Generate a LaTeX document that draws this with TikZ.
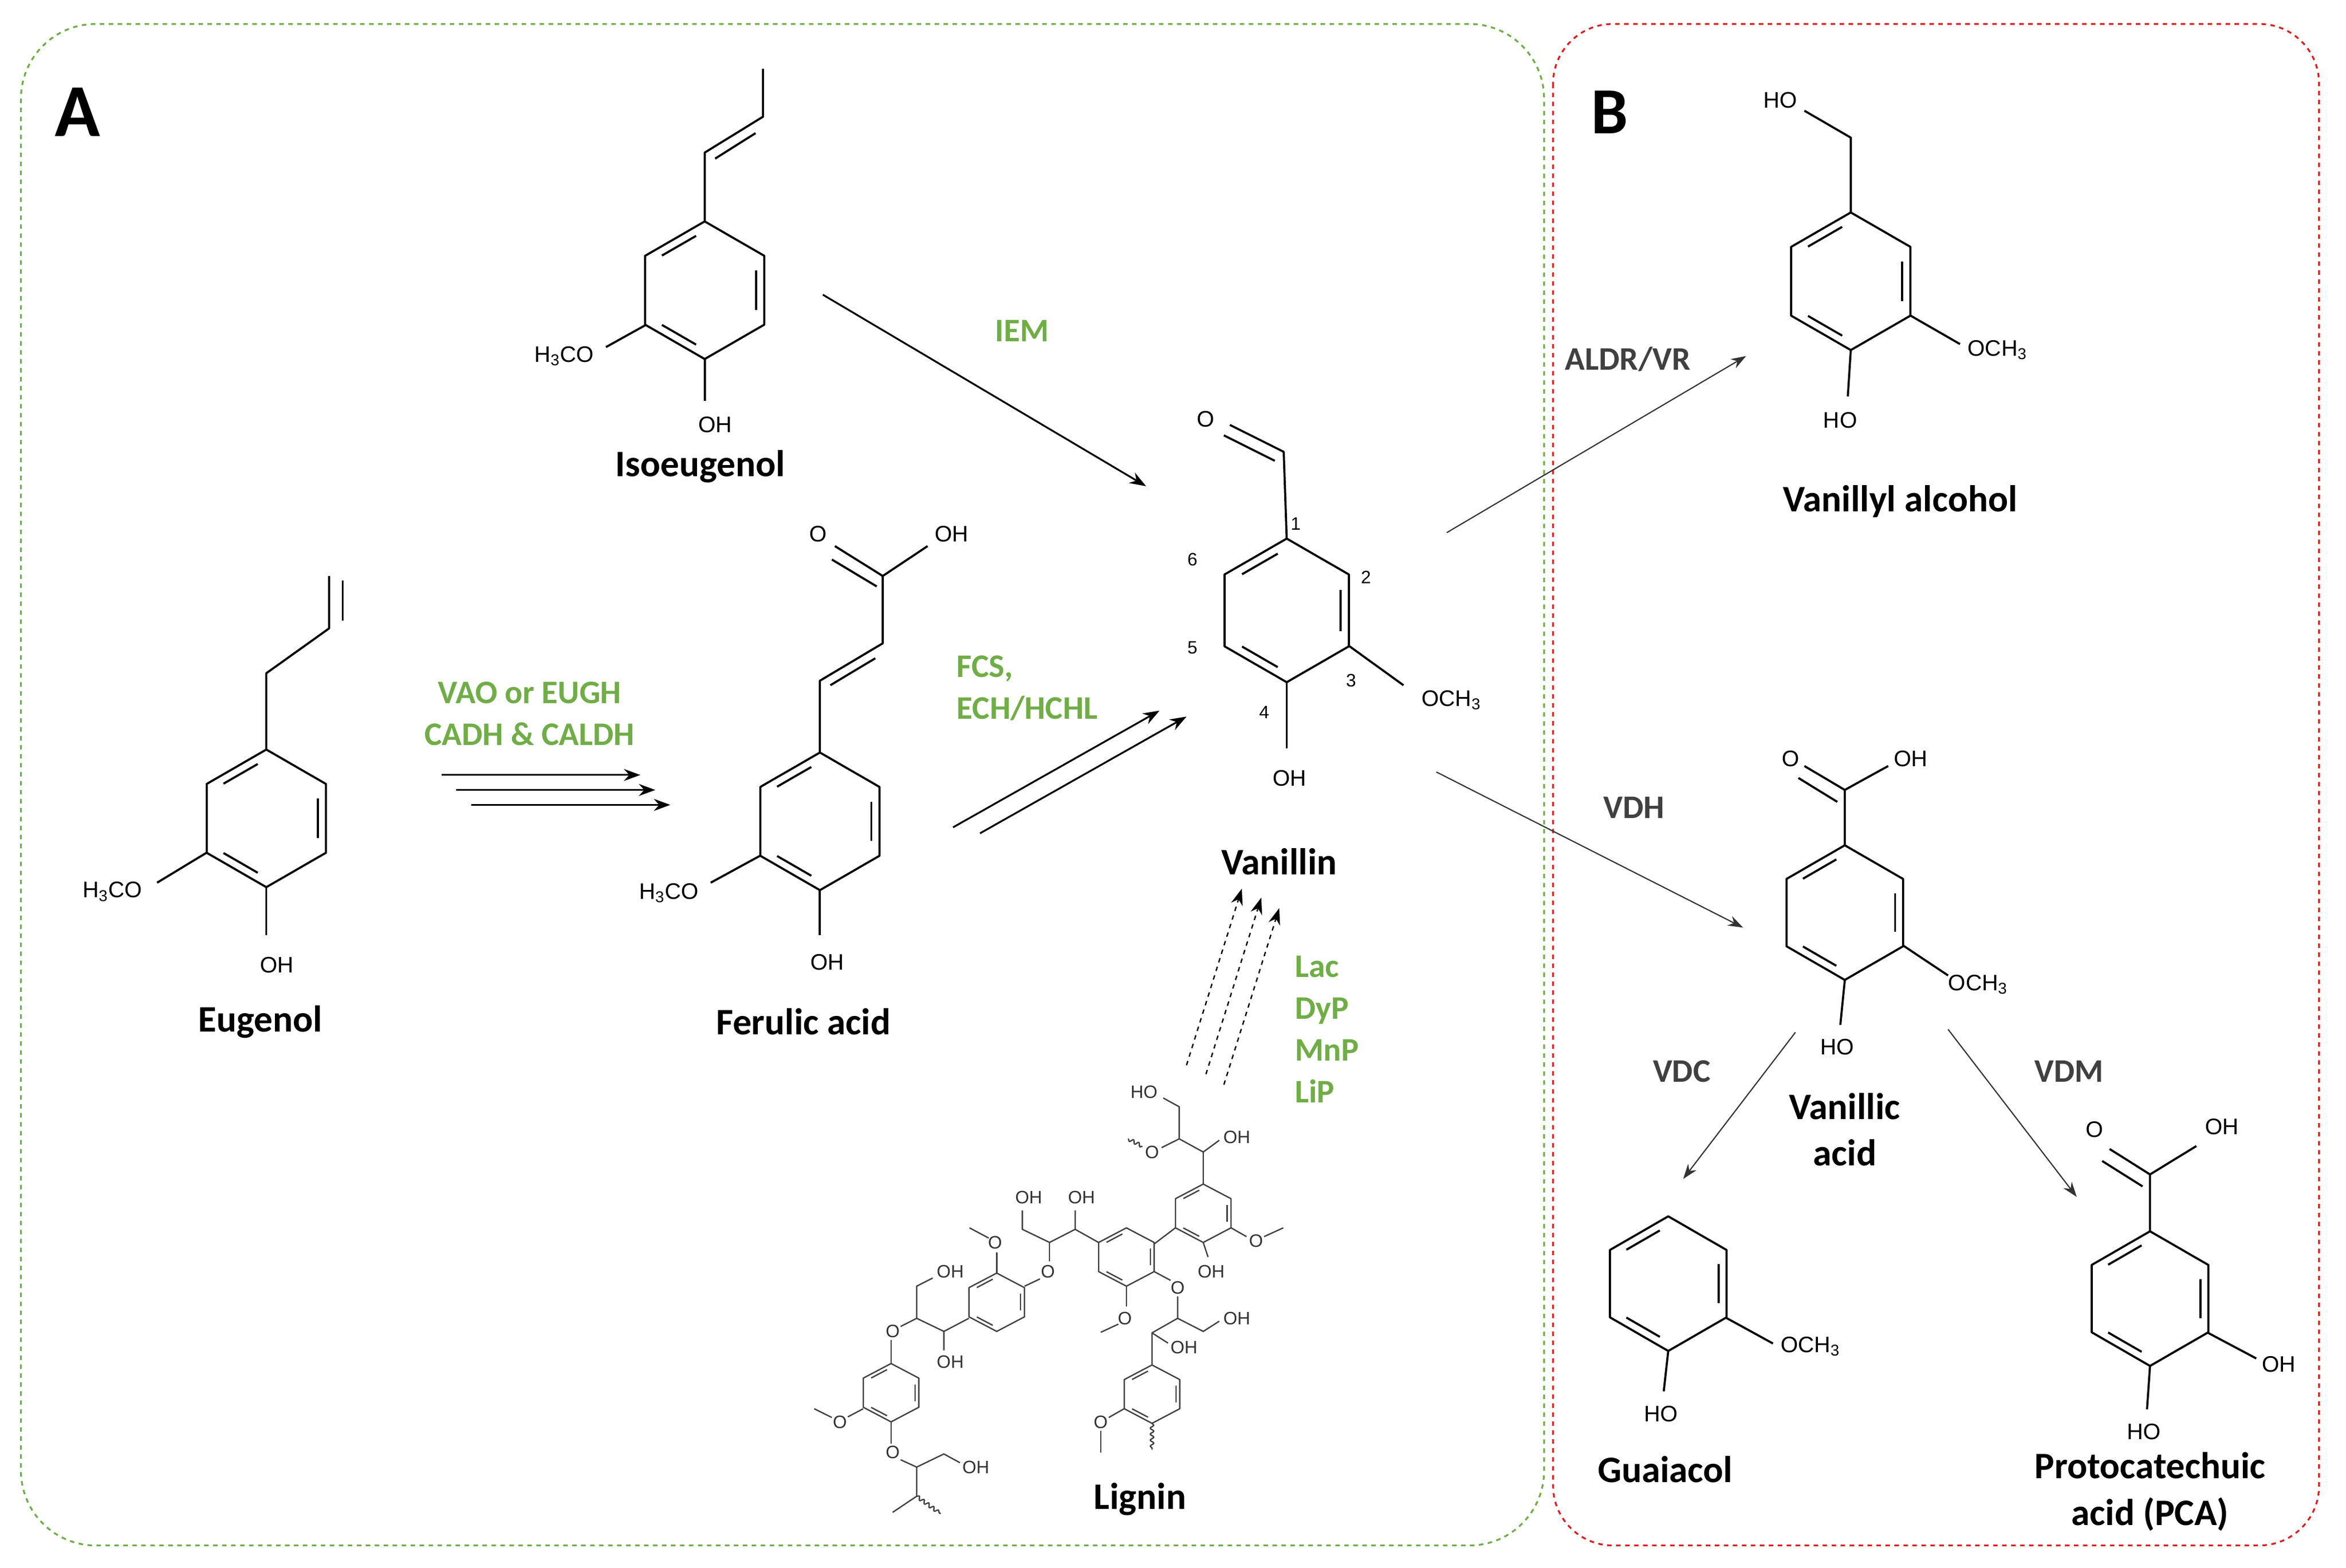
\documentclass[tikz,border=0pt]{standalone}
\usepackage{fontspec}
\setmainfont{Carlito}
\newfontfamily\chemfont{Liberation Sans}
\usetikzlibrary{arrows.meta, positioning, decorations.pathmorphing}
\definecolor{enzgreen}{RGB}{112,173,71}
\definecolor{enzgray}{RGB}{64,64,64}
\definecolor{boxgreen}{RGB}{112,173,71}
\definecolor{boxred}{RGB}{220,30,30}
% benzene ring: centre x, centre y, radius
\newcommand{\benz}[3]{%
  \begin{scope}[shift={(#1,#2)}]
    \draw[bond] (90:#3) -- (30:#3) -- (-30:#3) -- (-90:#3) -- (-150:#3) -- (150:#3) -- cycle;
    \foreach \a in {30,-90,150}
      \draw[bond] (\a-9:0.8*#3) -- (\a-51:0.8*#3);
  \end{scope}}
\begin{document}
\begin{tikzpicture}[x=1pt, y=-1pt]
  \tikzset{
    bond/.style={line width=1.4pt, line join=round},
    lbond/.style={line width=0.9pt, line join=round, black!75},
    chem/.style={font=\chemfont\fontsize{15}{17}\selectfont, inner sep=1pt},
    lchem/.style={font=\chemfont\fontsize{12}{14}\selectfont, inner sep=0.5pt, black!80},
    num/.style={font=\chemfont\fontsize{12}{14}\selectfont, inner sep=1pt},
    molname/.style={font=\bfseries\fontsize{25}{31}\selectfont, align=center},
    enzA/.style={font=\bfseries\fontsize{22}{28}\selectfont, text=enzgreen, align=left},
    enzB/.style={font=\bfseries\fontsize{22}{26}\selectfont, text=enzgray},
    stepA/.style={line width=1.2pt, -{Stealth[length=11pt, width=8pt]}},
    stepB/.style={line width=0.8pt, black!80, -{Stealth[length=10pt, width=7pt]}},
    wave/.style={lbond, decorate, decoration={snake, amplitude=1.2pt, segment length=4pt}}
  }
  \useasboundingbox (0,0) rectangle (1568,1048);

  % panels
  \draw[boxgreen, dashed, line width=1.2pt, rounded corners=50pt] (14,16) rectangle (1032,1033);
  \draw[boxred, dashed, line width=1.2pt, rounded corners=40pt] (1038,16) rectangle (1550,1033);
  \node (panA) at (52,75) {\bfseries\fontsize{50}{50}\selectfont A};
  \node (panB) at (1076,75) {\bfseries\fontsize{44}{44}\selectfont B};

  % Isoeugenol
  \benz{471}{194}{46}
  \draw[bond] (471,148) -- (471,102) -- (510,78) -- (510,46);
  \draw[bond] (478,106) -- (505,89);
  \draw[bond] (432,217) -- (405,232);
  \draw[bond] (471,240) -- (471,268);
  \node[chem] (isoOMe) at (377,238) {H\textsubscript{3}CO};
  \node[chem] (isoOH) at (478,284) {OH};
  \node[molname] (iso) at (468,312) {Isoeugenol};

  % Eugenol
  \benz{178}{547}{46}
  \draw[bond] (178,501) -- (178,450) -- (220,420) -- (220,385);
  \draw[bond] (229,415) -- (229,388);
  \draw[bond] (138,570) -- (105,590);
  \draw[bond] (178,593) -- (178,625);
  \node[chem] (eugOMe) at (75,596) {H\textsubscript{3}CO};
  \node[chem] (eugOH) at (185,645) {OH};
  \node[molname] (eug) at (174,683) {Eugenol};

  % Ferulic acid
  \benz{548}{549}{46}
  \draw[bond] (548,503) -- (548,455) -- (590,430) -- (590,385) -- (620,365);
  \draw[bond] (555,458) -- (585,440);
  \draw[bond] (590,385) -- (558,365);
  \draw[bond] (586,392) -- (556,374);
  \draw[bond] (508,572) -- (475,590);
  \draw[bond] (548,595) -- (548,625);
  \node[chem] (ferO) at (547,357) {O};
  \node[chem] (ferOH) at (636,357) {OH};
  \node[chem] (ferOMe) at (447,597) {H\textsubscript{3}CO};
  \node[chem] (ferOHb) at (553,643) {OH};
  \node[molname] (fer) at (537,683) {Ferulic acid};

  % Vanillin
  \benz{860}{408}{48}
  \draw[bond] (860,360) -- (858,302) -- (822,284);
  \draw[bond] (852,308) -- (818,291);
  \draw[bond] (902,432) -- (938,458);
  \draw[bond] (860,456) -- (860,500);
  \node[chem] (vanO) at (806,280) {O};
  \node[chem] (vanOMe) at (970,468) {OCH\textsubscript{3}};
  \node[chem] (vanOH) at (862,520) {OH};
  \node[num] (c1) at (866,350) {1};
  \node[num] (c2) at (913,386) {2};
  \node[num] (c3) at (903,455) {3};
  \node[num] (c4) at (845,476) {4};
  \node[num] (c5) at (797,433) {5};
  \node[num] (c6) at (797,374) {6};
  \node[molname] (van) at (855,576) {Vanillin};

  % Vanillyl alcohol
  \benz{1237}{188}{46}
  \draw[bond] (1237,142) -- (1237,92) -- (1206,74);
  \draw[bond] (1277,211) -- (1310,230);
  \draw[bond] (1237,234) -- (1235,265);
  \node[chem] (valHO) at (1190,67) {HO};
  \node[chem] (valOMe) at (1335,234) {OCH\textsubscript{3}};
  \node[chem] (valOH) at (1230,281) {HO};
  \node[molname] (val) at (1270,335) {Vanillyl alcohol};

  % Vanillic acid
  \benz{1233}{610}{45}
  \draw[bond] (1233,565) -- (1233,528) -- (1262,512);
  \draw[bond] (1233,528) -- (1206,512);
  \draw[bond] (1228,536) -- (1202,520);
  \draw[bond] (1272,632) -- (1302,652);
  \draw[bond] (1233,655) -- (1230,685);
  \node[chem] (vacO) at (1197,507) {O};
  \node[chem] (vacOH) at (1277,507) {OH};
  \node[chem] (vacOMe) at (1322,658) {OCH\textsubscript{3}};
  \node[chem] (vacHO) at (1228,700) {HO};
  \node[molname] (vac) at (1233,755) {Vanillic\\acid};

  % Guaiacol
  \benz{1115}{858}{45}
  \draw[bond] (1154,881) -- (1185,898);
  \draw[bond] (1115,903) -- (1112,930);
  \node[chem] (guaOMe) at (1210,900) {OCH\textsubscript{3}};
  \node[chem] (guaHO) at (1110,945) {HO};
  \node[molname] (gua) at (1113,982) {Guaiacol};

  % Protocatechuic acid
  \benz{1437}{868}{45}
  \draw[bond] (1437,823) -- (1437,785) -- (1468,766);
  \draw[bond] (1437,785) -- (1410,768);
  \draw[bond] (1432,793) -- (1405,776);
  \draw[bond] (1476,891) -- (1508,908);
  \draw[bond] (1437,913) -- (1435,942);
  \node[chem] (pcaO) at (1400,755) {O};
  \node[chem] (pcaOH) at (1485,753) {OH};
  \node[chem] (pcaOHb) at (1523,912) {OH};
  \node[chem] (pcaHO) at (1433,957) {HO};
  \node[molname] (pca) at (1437,997) {Protocatechuic\\acid (PCA)};

  % Lignin
  \begin{scope}[shift={(536.7,715.4)}, xscale=0.214, yscale=0.195]
    \tikzset{bond/.style={lbond}}
    \benz{1250}{490}{100}
    \benz{1010}{640}{100}
    \benz{605}{795}{100}
    \benz{275}{1105}{100}
    \benz{1090}{1110}{100}
    \draw[lbond] (1250,390) -- (1250,280) -- (1300,240);
    \draw[lbond] (1250,280) -- (1175,235) -- (1175,125) -- (1125,95);
    \draw[lbond] (1175,235) -- (1120,265);
    \draw[wave] (1060,260) -- (1015,235);
    \draw[lbond] (1163,540) -- (1097,595);
    \draw[lbond] (1250,590) -- (1265,640);
    \draw[lbond] (1337,540) -- (1385,570);
    \draw[lbond] (1440,570) -- (1500,540);
    \draw[lbond] (923,590) -- (850,545) -- (850,480);
    \draw[lbond] (850,545) -- (770,590) -- (685,545) -- (685,480);
    \draw[lbond] (770,590) -- (770,655);
    \draw[lbond] (740,715) -- (692,740);
    \draw[lbond] (605,695) -- (605,625);
    \draw[lbond] (580,575) -- (520,540);
    \draw[lbond] (1010,740) -- (1010,810);
    \draw[lbond] (985,870) -- (930,898);
    \draw[lbond] (1097,690) -- (1148,720);
    \draw[lbond] (1170,775) -- (1170,850) -- (1250,895) -- (1300,860);
    \draw[lbond] (1170,850) -- (1090,900) -- (1090,1010);
    \draw[lbond] (1090,900) -- (1140,935);
    \draw[lbond] (1003,1160) -- (955,1190);
    \draw[lbond] (930,1235) -- (930,1310);
    \draw[wave] (1090,1210) -- (1090,1300);
    \draw[lbond] (518,850) -- (440,895) -- (440,960);
    \draw[lbond] (440,895) -- (355,850) -- (355,740) -- (405,712);
    \draw[lbond] (355,850) -- (305,878);
    \draw[lbond] (275,925) -- (275,1005);
    \draw[lbond] (188,1160) -- (140,1188);
    \draw[lbond] (90,1190) -- (35,1160);
    \draw[lbond] (275,1205) -- (275,1280);
    \draw[lbond] (305,1335) -- (355,1360) -- (440,1315) -- (490,1345);
    \draw[lbond] (355,1360) -- (355,1460) -- (280,1515);
    \draw[wave] (355,1460) -- (430,1520);
    \node[lchem] (l1) at (1065,75) {HO};
    \node[lchem] (l2) at (1355,230) {OH};
    \node[lchem] (l3) at (1090,280) {O};
    \node[lchem] (l4) at (1275,690) {OH};
    \node[lchem] (l5) at (1415,585) {O};
    \node[lchem] (l6) at (870,435) {OH};
    \node[lchem] (l7) at (705,435) {OH};
    \node[lchem] (l8) at (765,690) {O};
    \node[lchem] (l9) at (600,590) {O};
    \node[lchem] (l10) at (1005,850) {O};
    \node[lchem] (l11) at (1170,745) {O};
    \node[lchem] (l12) at (1355,850) {OH};
    \node[lchem] (l13) at (1190,950) {OH};
    \node[lchem] (l14) at (930,1205) {O};
    \node[lchem] (l15) at (460,1000) {OH};
    \node[lchem] (l16) at (460,690) {OH};
    \node[lchem] (l17) at (280,895) {O};
    \node[lchem] (l18) at (115,1205) {O};
    \node[lchem] (l19) at (280,1310) {O};
    \node[lchem] (l20) at (540,1360) {OH};
  \end{scope}
  \node[molname] (lig) at (762,1002) {Lignin};

  % reaction arrows, panel A
  \coordinate (ie1) at (550,197);  \coordinate (ie2) at (766,325);
  \draw[stepA] (ie1) -- (ie2);
  \node[enzA] (iem) at (683,221) {IEM};
  \foreach \i/\dx/\dy in {1/0/0, 2/10/10, 3/20/20} {
    \coordinate (eu\i a) at (295+\dx,518+\dy);
    \coordinate (eu\i b) at (428+\dx,518+\dy);
    \draw[stepA] (eu\i a) -- (eu\i b);
  }
  \node[enzA, align=center] (vao) at (354,477) {VAO or EUGH\\CADH \& CALDH};
  \foreach \i/\dx/\dy in {1/0/0, 2/18/4} {
    \coordinate (fe\i a) at (637+\dx,553+\dy);
    \coordinate (fe\i b) at (775+\dx,475+\dy);
    \draw[stepA] (fe\i a) -- (fe\i b);
  }
  \node[enzA, anchor=west] (fcs) at (636,460) {FCS,\\ECH/HCHL};
  \foreach \i/\dx/\dy in {1/0/0, 2/13/6, 3/25/13} {
    \coordinate (li\i a) at (793+\dx,712+\dy);
    \coordinate (li\i b) at (830+\dx,594+\dy);
    \draw[stepA, dashed, line width=0.9pt] (li\i a) -- (li\i b);
  }
  \node[enzA, anchor=west] (lac) at (862,688) {Lac\\DyP\\MnP\\LiP};

  % reaction arrows, panel B
  \coordinate (va1) at (967,356);  \coordinate (va2) at (1167,238);
  \draw[stepB] (va1) -- (va2);
  \node[enzB] (aldr) at (1088,240) {ALDR/VR};
  \coordinate (vd1) at (960,516);  \coordinate (vd2) at (1165,620);
  \draw[stepB] (vd1) -- (vd2);
  \node[enzB] (vdh) at (1092,540) {VDH};
  \coordinate (vc1) at (1200,690);  \coordinate (vc2) at (1125,788);
  \draw[stepB] (vc1) -- (vc2);
  \node[enzB] (vdc) at (1124,716) {VDC};
  \coordinate (vm1) at (1302,688);  \coordinate (vm2) at (1388,800);
  \draw[stepB] (vm1) -- (vm2);
  \node[enzB] (vdm) at (1383,716) {VDM};
\end{tikzpicture}
\end{document}
